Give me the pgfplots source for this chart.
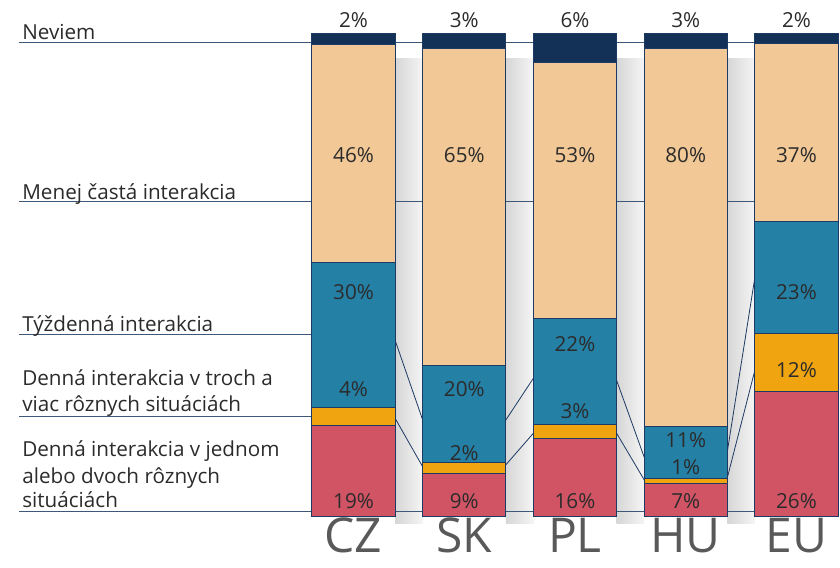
\documentclass[border=0pt]{standalone}
\usepackage{fontspec}
\setmainfont{Open Sans}
\usepackage{pgfplots}
\pgfplotsset{compat=1.18}

\definecolor{cred}{HTML}{D15465}
\definecolor{corange}{HTML}{F0A40F}
\definecolor{cblue}{HTML}{2580A5}
\definecolor{cpeach}{HTML}{F2C996}
\definecolor{cnavy}{HTML}{133057}
\definecolor{cline}{HTML}{1C3A63}
\definecolor{ctext}{HTML}{2B2B2B}
\definecolor{ccat}{HTML}{595959}

\pgfplotsset{
  frame/.style={
    width=630pt, height=425.25pt, scale only axis,
    xmin=-3.192, xmax=4.393, ymin=-10.58, ymax=107.05,
    hide axis, clip=false},
  refline/.style={draw=cline!85, line width=0.6pt, forget plot},
  conn/.style={draw=cline, line width=0.6pt, unbounded coords=jump, forget plot},
}
\tikzset{
  lab/.style={anchor=base west, inner sep=0pt, text=ctext, font=\fontsize{15.5}{19.5}\selectfont},
  pct/.style={inner sep=0pt, text=ctext, font=\fontsize{15.5}{19.5}\selectfont},
  cat/.style={anchor=base, inner sep=0pt, text=ccat, font=\fontsize{36}{40}\selectfont},
}

\begin{document}
\begin{tikzpicture}
% background: shadows, reference lines, connectors, row labels
\begin{axis}[frame]
\pgfplotsinvokeforeach{0,...,3}{
  \shade[left color=black!16, right color=black!4]
    (axis cs:#1+0.375,-1.5) rectangle (axis cs:#1+0.625,95);
}
\addplot[refline] coordinates {(-3.02,98.3) (4.375,98.3)};
\addplot[refline] coordinates {(-3.02,65.2) (4.375,65.2)};
\addplot[refline] coordinates {(-3.02,37.6) (-0.375,37.6)};
\addplot[refline] coordinates {(-3.02,20.7) (-0.375,20.7)};
\addplot[refline] coordinates {(-3.02,1.0) (4.375,1.0)};

\addplot[conn] coordinates {(0.375,36.5) (0.625,19.9) (1,nan)
  (1.375,19.9) (1.625,28.6) (2,nan) (2.375,28.2) (2.625,12.2) (3,nan)
  (3.375,13.3) (3.625,49.6)};
\addplot[conn] coordinates {(0.375,20.3) (0.625,10.2) (1,nan)
  (1.375,10.6) (1.625,17.2) (2,nan) (2.375,17.2) (2.625,7.5) (3,nan)
  (3.375,7.9) (3.625,30.3)};

\node[lab] at (axis cs:-2.993,98.9) {Neviem};
\node[lab] at (axis cs:-2.993,65.7) {Menej častá interakcia};
\node[lab] at (axis cs:-2.993,38.2) {Týždenná interakcia};
\node[lab] at (axis cs:-2.993,27.0) {Denná interakcia v troch a};
\node[lab] at (axis cs:-2.993,21.6) {viac rôznych situáciách};
\node[lab] at (axis cs:-2.993,12.3) {Denná interakcia v jednom};
\node[lab] at (axis cs:-2.993,6.8) {alebo dvoch rôznych};
\node[lab] at (axis cs:-2.993,1.7) {situáciách};
\end{axis}

% stacked bars
\begin{axis}[frame, ybar stacked, bar width=0.75,
  every axis plot/.append style={draw=cline, line width=0.75pt}]
% Denná interakcia v jednom alebo dvoch rôznych situáciách
\addplot[fill=cred] coordinates {(0,18.7) (1,8.9) (2,16.0) (3,6.8) (4,25.9)};
% Denná interakcia v troch a viac rôznych situáciách
\addplot[fill=corange] coordinates {(0,3.9) (1,2.1) (2,2.9) (3,0.9) (4,11.9)};
% Týždenná interakcia
\addplot[fill=cblue] coordinates {(0,29.9) (1,20.3) (2,22.0) (3,10.8) (4,23.2)};
% Menej častá interakcia
\addplot[fill=cpeach] coordinates {(0,45.4) (1,65.6) (2,53.1) (3,78.4) (4,37.1)};
% Neviem
\addplot[fill=cnavy] coordinates {(0,2.1) (1,3.1) (2,6.0) (3,3.1) (4,1.9)};
\end{axis}

% value labels and categories on top
\begin{axis}[frame]
\node[pct] at (axis cs:0,3.15) {19\%};
\node[pct] at (axis cs:0,26.4) {4\%};
\node[pct] at (axis cs:0,46.5) {30\%};
\node[pct] at (axis cs:0,74.9) {46\%};
\node[pct,anchor=base] at (axis cs:0,101.3) {2\%};

\node[pct] at (axis cs:1,3.15) {9\%};
\node[pct] at (axis cs:1,13.0) {2\%};
\node[pct] at (axis cs:1,26.3) {20\%};
\node[pct] at (axis cs:1,74.9) {65\%};
\node[pct,anchor=base] at (axis cs:1,101.3) {3\%};

\node[pct] at (axis cs:2,3.15) {16\%};
\node[pct] at (axis cs:2,21.7) {3\%};
\node[pct] at (axis cs:2,35.7) {22\%};
\node[pct] at (axis cs:2,74.9) {53\%};
\node[pct,anchor=base] at (axis cs:2,101.3) {6\%};

\node[pct] at (axis cs:3,3.15) {7\%};
\node[pct] at (axis cs:3,10.1) {1\%};
\node[pct] at (axis cs:3,15.8) {11\%};
\node[pct] at (axis cs:3,74.9) {80\%};
\node[pct,anchor=base] at (axis cs:3,101.3) {3\%};

\node[pct] at (axis cs:4,3.15) {26\%};
\node[pct] at (axis cs:4,30.2) {12\%};
\node[pct] at (axis cs:4,46.5) {23\%};
\node[pct] at (axis cs:4,74.9) {37\%};
\node[pct,anchor=base] at (axis cs:4,101.3) {2\%};

\node[cat] at (axis cs:0,-7.6) {CZ};
\node[cat] at (axis cs:1,-7.6) {SK};
\node[cat] at (axis cs:2,-7.6) {PL};
\node[cat] at (axis cs:3,-7.6) {HU};
\node[cat] at (axis cs:4,-7.6) {EU};
\end{axis}
\pgfresetboundingbox
\path[use as bounding box] (current axis.south west) rectangle (current axis.north east);
\end{tikzpicture}
\end{document}
